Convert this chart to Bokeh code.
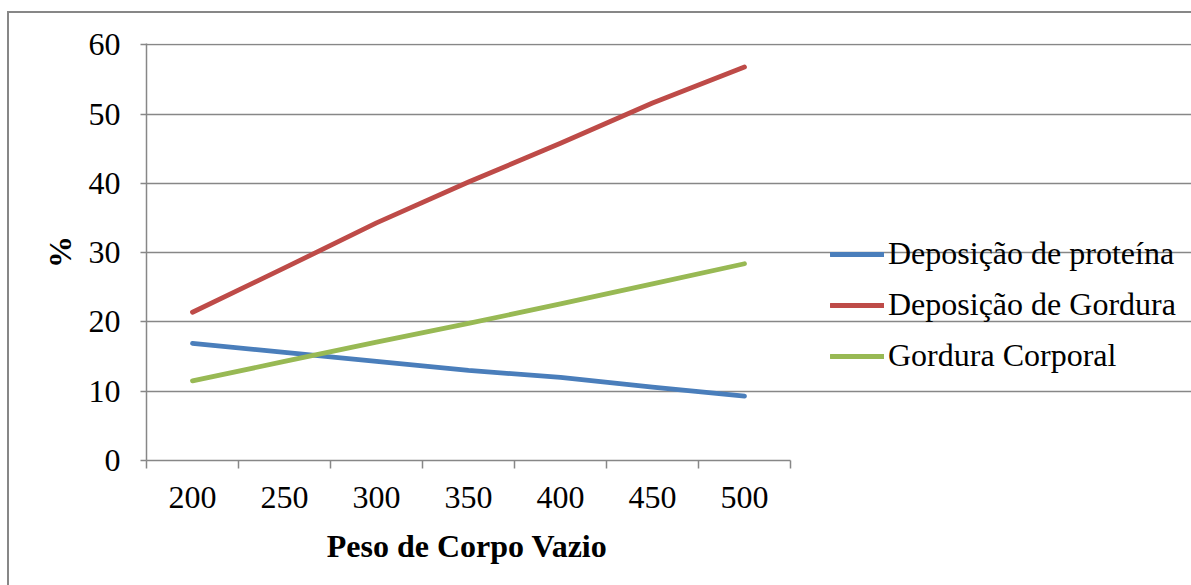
from bokeh.plotting import figure
from bokeh.layouts import column
from bokeh.models import Range1d, FixedTicker, Legend, LegendItem, Title
from bokeh.embed import file_html
from bokeh.resources import INLINE

categories = ["200", "250", "300", "350", "400", "450", "500"]
deposicao_proteina = [16.9, 15.6, 14.3, 13.0, 12.0, 10.6, 9.3]
deposicao_gordura = [21.4, 27.8, 34.3, 40.2, 45.8, 51.6, 56.8]
gordura_corporal = [11.5, 14.3, 17.1, 19.8, 22.6, 25.5, 28.4]
y_ticks = [0, 10, 20, 30, 40, 50, 60]

series_names = ["Deposição de proteína", "Deposição de Gordura", "Gordura Corporal"]
series_colors = ["#4A7EBB", "#BE4B48", "#98B954"]
x_title = "Peso de Corpo Vazio"
y_title = "%"

FONT = "Liberation Serif"
GRAY = "#878787"
FS = "32px"

n = len(categories)
xs = list(range(n))

# layout: the categories span 644 px; the frame extends to the right edge so that
# the legend (placed in the frame, right of the data) is not clipped
FIG_W, FIG_H = 1182, 572
LEFT = 137
CAT_PX = 644 / n
x_end = -0.5 + (FIG_W - LEFT) / CAT_PX

p = figure(width=FIG_W, height=FIG_H, output_backend="svg", toolbar_location=None,
           x_range=Range1d(-0.5, x_end), y_range=Range1d(0, 60.2),
           min_border_left=LEFT, min_border_right=0, min_border_top=30,
           min_border_bottom=125)
p.outline_line_color = None
p.background_fill_color = "white"
p.border_fill_color = "white"

renderers = []
for vals, col in zip([deposicao_proteina, deposicao_gordura, gordura_corporal], series_colors):
    r = p.line(xs, vals, line_color=col, line_width=4.8, line_cap="round", line_join="round")
    renderers.append(r)

# x axis: labels at category centres, ticks at category boundaries
xa = p.xaxis[0]
xa.bounds = (-0.5, n - 0.5)
xa.ticker = FixedTicker(ticks=xs, minor_ticks=[i - 0.5 for i in range(n + 1)])
xa.major_label_overrides = {i: c for i, c in enumerate(categories)}
xa.major_tick_out = 0
xa.major_tick_in = 0
xa.minor_tick_out = 8
xa.minor_tick_in = 0
xa.minor_tick_line_color = GRAY
xa.minor_tick_line_width = 1.5
xa.axis_line_color = GRAY
xa.axis_line_width = 1.5
xa.major_label_text_font = FONT
xa.major_label_text_font_size = FS
xa.major_label_text_color = "black"
xa.major_label_standoff = 18

# x axis title, centred under the categories (text width of Times-bold ~8.86 em)
title_w = 8.86 * 32
t = Title(text=x_title, align="left", offset=(n * CAT_PX) / 2 - title_w / 2,
          vertical_align="top", standoff=34,
          text_font=FONT, text_font_size=FS, text_font_style="bold", text_color="black")
p.add_layout(t, "below")

ya = p.yaxis[0]
ya.ticker = FixedTicker(ticks=y_ticks, minor_ticks=[])
ya.major_tick_out = 6
ya.major_tick_in = 0
ya.major_tick_line_color = GRAY
ya.major_tick_line_width = 1.5
ya.axis_line_color = GRAY
ya.axis_line_width = 1.5
ya.major_label_text_font = FONT
ya.major_label_text_font_size = FS
ya.major_label_text_color = "black"
ya.major_label_standoff = 20
ya.axis_label = y_title
ya.axis_label_text_font = FONT
ya.axis_label_text_font_size = FS
ya.axis_label_text_font_style = "bold"
ya.axis_label_text_color = "black"
ya.axis_label_standoff = 8

p.xgrid.grid_line_color = None
p.ygrid.ticker = FixedTicker(ticks=y_ticks, minor_ticks=[])
p.ygrid.bounds = (-0.5, n - 0.5)
p.ygrid.grid_line_color = GRAY
p.ygrid.grid_line_width = 1.5

legend = Legend(items=[LegendItem(label=s, renderers=[r]) for s, r in zip(series_names, renderers)],
                location=(684, 86), orientation="vertical",
                label_text_font=FONT, label_text_font_size=FS, label_text_color="black",
                glyph_width=54, glyph_height=20, label_standoff=4, spacing=14,
                padding=0, margin=0, border_line_color=None, background_fill_alpha=0)
p.add_layout(legend, "center")

page = column(p, margin=(11, 0, 0, 7),
              styles={"border-left": "2px solid #878787", "border-top": "2px solid #878787"})

open("out.html", "w").write(file_html(page, INLINE))
